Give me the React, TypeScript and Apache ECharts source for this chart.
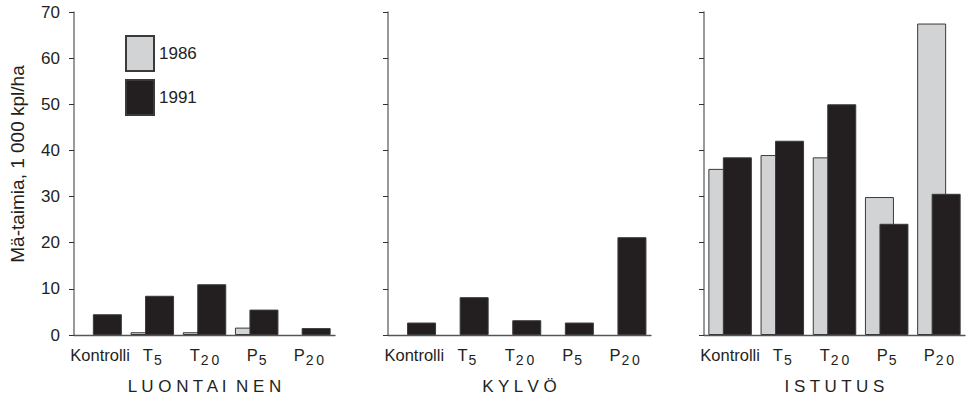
import React, { useEffect, useRef } from "react";
import * as echarts from "echarts";

const categories = ["Kontrolli", "T5", "T20", "P5", "P20"];
const tickLabels = ["Kontrolli", "{m|T}{s|5}", "{m|T}{s|2\u20090}", "{m|P}{s|5}", "{m|P}{s|2\u20090}"];
const panelNames = ["L U O N T A I  N E N", "K Y L V Ö", "I S T U T U S"];
const yTicks = [0, 10, 20, 30, 40, 50, 60, 70];
const seriesNames = ["1986", "1991"];

const luontainen1986 = [null, 0.6, 0.6, 1.6, null];
const luontainen1991 = [4.5, 8.5, 11.0, 5.5, 1.5];
const kylvo1986 = [null, null, null, null, null];
const kylvo1991 = [2.7, 8.2, 3.2, 2.7, 21.2];
const istutus1986 = [36.0, 39.0, 38.5, 29.9, 67.5];
const istutus1991 = [38.5, 42.1, 50.0, 24.1, 30.6];

const FONT = "'Liberation Sans', Arial, sans-serif";
const TEXT = "#231f20";
const GREY = "#d2d3d5";
const BLACK = "#231f20";

export default function App() {
  const ref = useRef<HTMLDivElement>(null);
  useEffect(() => {
    document.body.style.margin = "0";
    if (!ref.current) return;
    const chart = echarts.init(ref.current, undefined, { renderer: "svg" });
    const grids = [
      { left: 74, width: 261, top: 12, height: 325 },
      { left: 388, width: 263, top: 12, height: 325 },
      { left: 704, width: 261, top: 12, height: 325 },
    ];
    const data1986 = [luontainen1986, kylvo1986, istutus1986];
    const data1991 = [luontainen1991, kylvo1991, istutus1991];
    const xAxis = grids.map((_, i) => ({
      type: "category",
      gridIndex: i,
      data: categories,
      name: panelNames[i],
      nameLocation: "middle",
      nameGap: 43,
      nameTextStyle: { fontFamily: FONT, fontSize: 17, color: TEXT },
      axisTick: { show: false },
      axisLine: { lineStyle: { color: "#555", width: 1.3 } },
      axisLabel: {
        margin: 11,
        interval: 0,
        fontFamily: FONT,
        color: TEXT,
        formatter: (v: string) => tickLabels[categories.indexOf(v)],
        rich: {
          m: { fontFamily: FONT, fontSize: 16.5, color: TEXT, lineHeight: 18, verticalAlign: "top" },
          s: { fontFamily: FONT, fontSize: 14, color: TEXT, lineHeight: 15, padding: [10, 0, 0, 1] },
        },
        fontSize: 16.5,
        lineHeight: 18,
      },
      splitLine: { show: false },
    }));
    const yAxis = grids.map((_, i) => ({
      type: "value",
      gridIndex: i,
      min: yTicks[0],
      max: yTicks[yTicks.length - 1],
      interval: 10,
      axisLine: { show: true, lineStyle: { color: "#777", width: 1.5 } },
      axisTick: { show: true, length: 5, lineStyle: { color: "#333", width: 1 } },
      axisLabel: {
        show: i === 0,
        margin: 14,
        fontFamily: FONT,
        fontSize: 17,
        color: TEXT,
      },
      splitLine: { show: false },
    }));
    const series: any[] = [];
    grids.forEach((_, i) => {
      series.push({
        type: "bar",
        name: seriesNames[0],
        xAxisIndex: i,
        yAxisIndex: i,
        data: data1986[i].map((v) => (v == null ? "-" : v)),
        barWidth: 29,
        barGap: "-50%",
        itemStyle: { color: GREY, borderColor: "#3a3a3a", borderWidth: 1 },
      });
      series.push({
        type: "bar",
        name: seriesNames[1],
        xAxisIndex: i,
        yAxisIndex: i,
        data: data1991[i].map((v) => (v == null ? "-" : v)),
        barWidth: 29,
        barGap: "-50%",
        itemStyle: { color: BLACK, borderColor: "#3a3a3a", borderWidth: 1 },
      });
    });
    chart.setOption({
      animation: false,
      grid: grids,
      xAxis,
      yAxis,
      series,
      legend: {
        data: seriesNames,
        orient: "vertical",
        left: 120,
        top: 30,
        itemWidth: 28,
        itemHeight: 35,
        itemGap: 7,
        icon: "rect",
        textStyle: { fontFamily: FONT, fontSize: 17, color: TEXT },
        selectedMode: false,
      },
      graphic: [
        {
          type: "text",
          x: 17,
          y: 164,
          rotation: Math.PI / 2,
          style: {
            text: "Mä-taimia, 1 000 kpl/ha",
            fontFamily: FONT,
            fontSize: 19,
            fill: TEXT,
            align: "center",
            verticalAlign: "middle",
          },
        },
      ],
    });
    return () => chart.dispose();
  }, []);
  return <div ref={ref} style={{ width: 967, height: 400 }} />;
}
